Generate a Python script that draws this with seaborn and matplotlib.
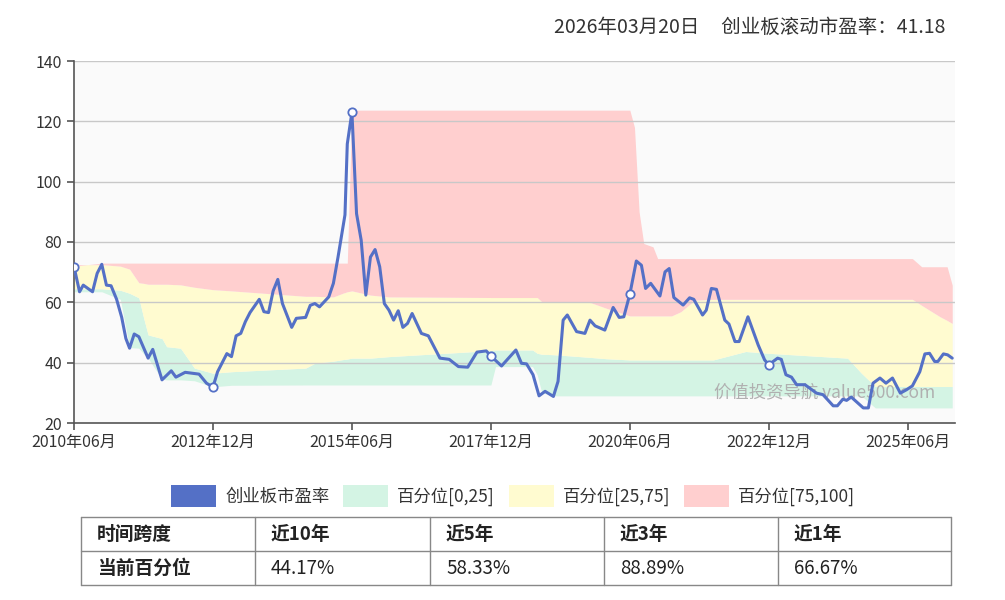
import numpy as np
import pandas as pd
import seaborn as sns
import matplotlib
matplotlib.use("Agg")
import matplotlib.pyplot as plt
from matplotlib.patches import Patch

sns.set_theme(style="white")
plt.rcParams['font.family'] = ['Noto Sans CJK SC', 'DejaVu Sans']

# ---- data (month index from 2010-06) ----
pe_months = [0,1.2,2,4,5,6,7,8,9.2,10.3,11.2,12,13,14,16,17,19,21,22,24,27,28.6,30,31,33,34,35,36,37,38,40,41,42,43,44,45,
             47,48,50,51,52,53,55,56,57,58.5,59,60,61,62,63,64,65,66,67,68,69,70,71,72,73,75,76.5,79,81,83,85,87,89,90,
             92.3,95.4,96.6,97.7,99.1,100.4,101.7,103.5,104.5,105.6,106.5,108.5,110.3,111.4,112.5,114.6,116.4,117.7,118.7,120,
             121.4,122.5,123.4,124.5,126.5,127.6,128.5,129.5,131.5,132.9,133.8,135.7,136.5,137.6,138.7,140.5,141.4,142.7,143.6,
             145.5,147.7,149.1,150,151.9,152.7,153.7,154.9,156,157.8,160.3,161.7,163.9,164.8,166,166.8,167.8,170.4,171.5,172.5,
             174,175.3,176.7,178.4,179.7,181,182.6,183.7,184.7,185.8,186.5,187.7,188.6,189.6]
pe_values = [71.8,63.5,65.7,63.5,69.6,72.6,65.7,65.5,61,55,48,44.8,49.5,48.6,41.5,44.4,34.3,37.3,35.2,36.8,36.2,33.2,31.9,37,43,42,48.9,49.7,53.6,56.6,61,56.9,56.6,63.8,67.6,59.6,
             51.7,54.7,55,59,59.6,58.5,61.8,66.3,75,89,112.5,123,89.4,80.6,62.4,75,77.5,71.8,59.6,57.4,54.1,57.2,51.7,53,56.3,49.7,48.9,41.5,41.1,38.7,38.5,43.5,43.9,42.2,
             38.9,44.2,39.8,39.6,36,29,30.5,28.8,33.8,54.1,55.8,50.3,49.7,54.1,52.2,50.8,58.3,55,55.2,62.7,
             73.7,72.3,64.6,66.3,62.1,70.1,71.2,61.6,59.1,61.5,61,55.8,57.4,64.6,64.3,54.1,52.8,47,47,
             55.2,45.9,40.9,39.3,41.5,41.1,36,35.2,32.7,32.7,29.9,29.4,25.7,25.7,27.9,27.5,28.6,25,25,33.2,
             34.9,33.2,34.9,29.9,31,32.3,37,42.9,43.1,40.4,40.4,42.9,42.6,41.5]

band_months = [0,3,6,10,12,14,15,16,19,20,23,26,30,34,50,52,56,58,59,60,64,68,90,91,99,100,101,104,111,115,
               120,121,122,123,125,126,129,131,134,138,145,150,167,170,173,181,183,187,188.5,189.6]
band_min = [63.5,63.5,63.5,61,45,44.8,43,41.5,34.5,34.3,34.3,34,32,32.5,
            32.6,32.6,32.6,32.6,32.6,32.6,32.6,32.6,32.6,38.7,38.7,36,30,29,
            29,29,29,29,29,29,29,29,29,29,29,29,29,29,29,29,25,25,25,25,25,25]
band_p25 = [64.5,64.5,64.5,64,63,61.5,55,49.2,48,45.3,44.8,38.2,36.5,37,38.2,39.8,40.5,41,41.2,41.5,41.5,42,44,44.2,44.2,
            43.1,42.8,42.6,41.8,41.3,40.9,40.9,40.9,40.9,40.9,40.9,40.9,40.9,40.9,40.9,43.7,43.1,41.5,36.5,32.1,32.1,32.1,32.1,32.1,32.1]
band_p75 = [72,72.5,72.5,72,71,66.5,66.3,66,66,66,65.8,65,64.2,63.8,62,62,61.8,63,63.5,63.8,62.4,61.8,61.6,61.6,61.6,
            61.6,60.2,60.2,60.2,58,55.5,55.5,55.5,55.5,55.5,55.5,55.5,56.9,60.7,61,61,61,61,61,61,61,59,55.2,54,53]
band_max = [72.5,72.5] + [73]*15 + [73,73,123.7] + [123.7]*11 + [118,90,79.5,78.4,74.5] + [74.5]*10 + [71.8,71.8,71.8,65.7]

tick_months = [0,30,60,90,120,150,180]
tick_labels = ['2010年06月','2012年12月','2015年06月','2017年12月','2020年06月','2022年12月','2025年06月']
legend_labels = ['创业板市盈率','百分位[0,25]','百分位[25,75]','百分位[75,100]']
table_rows = [['时间跨度','近10年','近5年','近3年','近1年'],
              ['当前百分位','44.17%','58.33%','88.89%','66.67%']]
title_text = '2026年03月20日     创业板滚动市盈率：41.18'

c_line = '#5470c6'; c_g = '#d4f4e4'; c_y = '#fffbd0'; c_r = '#ffcfcf'

fig = plt.figure(figsize=(10.05, 6.0), dpi=100)
fig.patch.set_facecolor('white')
ax = fig.add_axes([74/1005, 177/600, 881/1005, 362/600])
ax.set_facecolor('#fafafa')

ax.fill_between(band_months, band_min, band_p25, color=c_g, lw=0, zorder=1)
ax.fill_between(band_months, band_p25, band_p75, color=c_y, lw=0, zorder=1)
ax.fill_between(band_months, band_p75, band_max, color=c_r, lw=0, zorder=1)
for yv in [40,60,80,100,120,140]:
    ax.axhline(yv, color='#c8c8c8', lw=1, zorder=2)

df = pd.DataFrame({'m': pe_months, 'pe': pe_values})
mk_idx = [pe_months.index(m) for m in [0,30,60,90,120,150]]
sns.lineplot(data=df, x='m', y='pe', ax=ax, color=c_line, lw=2.2, zorder=4,
             marker='o', markevery=mk_idx, markersize=6, markerfacecolor='white',
             markeredgecolor=c_line, markeredgewidth=1.3)

ax.set_xlim(0, 190.2)
ax.set_ylim(20, 140)
ax.set_xticks(tick_months)
ax.set_xticklabels(tick_labels)
ax.set_yticks([20,40,60,80,100,120,140])
ax.set_xlabel(''); ax.set_ylabel('')
for s in ['top','right']:
    ax.spines[s].set_visible(False)
for s in ['left','bottom']:
    ax.spines[s].set_color('#555555'); ax.spines[s].set_linewidth(1.2)
ax.tick_params(axis='both', colors='#555555', labelcolor='#333333', labelsize=11.5,
               direction='out', length=5, width=1.2, bottom=True, left=True)
ax.tick_params(axis='x', pad=3)

ax.text((935-74)/881, 0.085, '价值投资导航 value500.com', transform=ax.transAxes, ha='right',
        va='center', fontsize=12.5, color='#b0b0b0', zorder=3)
fig.text(945/1005, 1-27/600, title_text, ha='right', va='center', fontsize=14, color='#333333')

handles = [Patch(facecolor=c, edgecolor='none') for c in [c_line, c_g, c_y, c_r]]
leg = fig.legend(handles, legend_labels, loc='center', bbox_to_anchor=(513/1005, 1-496/600), ncol=4,
                 frameon=False, fontsize=12.5, handlelength=2.6, handleheight=1.5, columnspacing=0.8,
                 handletextpad=0.5)
for t in leg.get_texts():
    t.set_color('#333333')

# table
tx = [81,255,430,604,778,951]; ty = [517,551,585]
tax = fig.add_axes([0,0,1,1]); tax.set_xlim(0,1005); tax.set_ylim(600,0); tax.axis('off')
for x in tx:
    tax.plot([x,x],[ty[0],ty[-1]], color='#888888', lw=1)
for y in ty:
    tax.plot([tx[0],tx[-1]],[y,y], color='#888888', lw=1)
for r, row in enumerate(table_rows):
    for c, txt in enumerate(row):
        bold = (r == 0 or c == 0)
        tax.text(tx[c]+16, (ty[r]+ty[r+1])/2, txt, ha='left', va='center', fontsize=13.5,
                 fontweight='bold' if bold else 'normal', color='#222222')

fig.savefig('out.png', dpi=100)
